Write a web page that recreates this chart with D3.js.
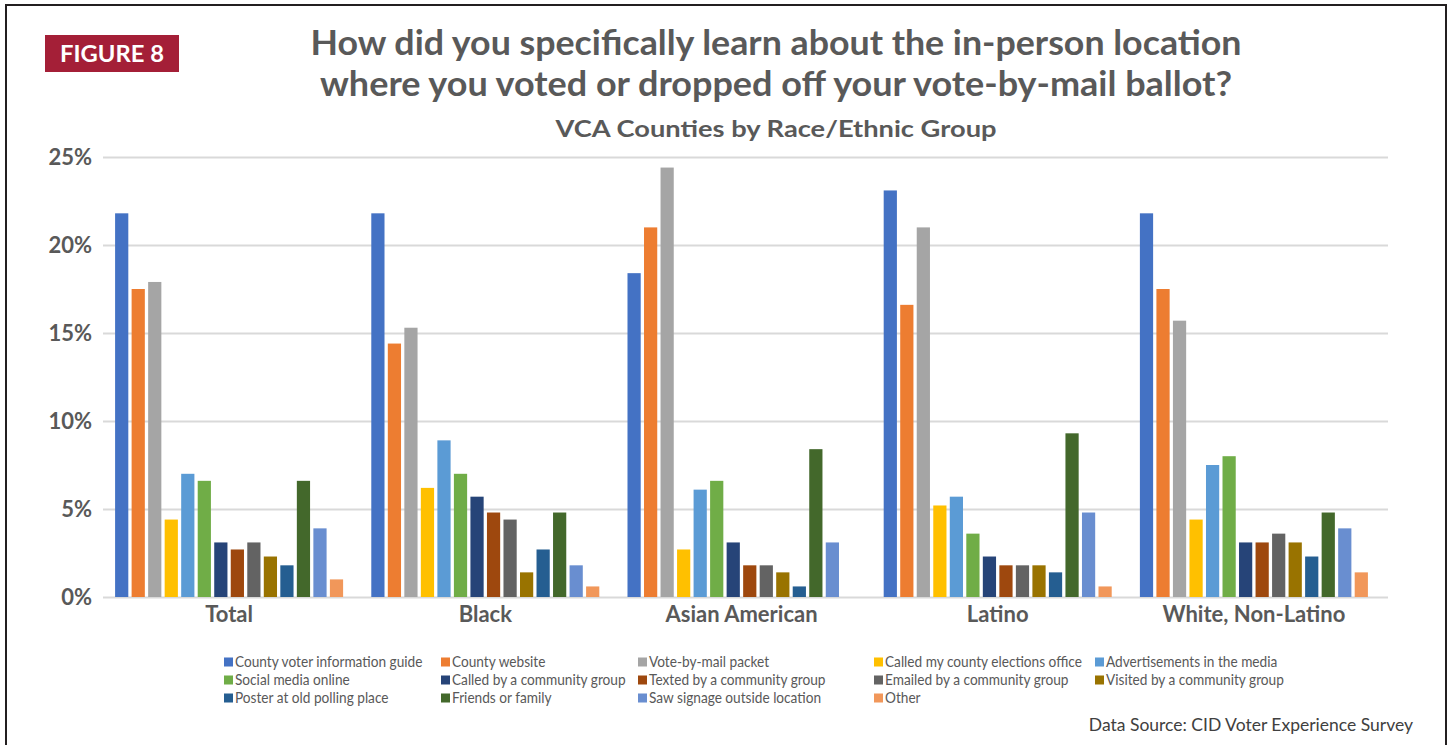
<!DOCTYPE html>
<html>
<head>
<meta charset="utf-8">
<script src="https://cdn.jsdelivr.net/npm/d3@7"></script>
<style>
  html, body { margin: 0; padding: 0; background: #fff; }
  svg { display: block; }
  text { font-family: Lato, "Open Sans", sans-serif; }
</style>
</head>
<body>
<svg id="chart" width="1454" height="745"></svg>
<script>
// ---------- data ----------
const groups = ["Total", "Black", "Asian American", "Latino", "White, Non-Latino"];
const seriesNames = [
  "County voter information guide", "County website", "Vote-by-mail packet",
  "Called my county elections office", "Advertisements in the media",
  "Social media online", "Called by a community group", "Texted by a community group",
  "Emailed by a community group", "Visited by a community group",
  "Poster at old polling place", "Friends or family", "Saw signage outside location", "Other"
];
const seriesColors = [
  "#4472C4", "#ED7D31", "#A5A5A5", "#FFC000", "#5B9BD5",
  "#70AD47", "#264478", "#9E480E", "#636363", "#997300",
  "#255E91", "#43682B", "#698ED0", "#F1975A"
];
// values per group, in the same order as seriesNames (percent)
const totalValues   = [21.8, 17.5, 17.9, 4.4, 7.0, 6.6, 3.1, 2.7, 3.1, 2.3, 1.8, 6.6, 3.9, 1.0];
const blackValues   = [21.8, 14.4, 15.3, 6.2, 8.9, 7.0, 5.7, 4.8, 4.4, 1.4, 2.7, 4.8, 1.8, 0.6];
const asianValues   = [18.4, 21.0, 24.4, 2.7, 6.1, 6.6, 3.1, 1.8, 1.8, 1.4, 0.6, 8.4, 3.1, 0.0];
const latinoValues  = [23.1, 16.6, 21.0, 5.2, 5.7, 3.6, 2.3, 1.8, 1.8, 1.8, 1.4, 9.3, 4.8, 0.6];
const whiteValues   = [21.8, 17.5, 15.7, 4.4, 7.5, 8.0, 3.1, 3.1, 3.6, 3.1, 2.3, 4.8, 3.9, 1.4];
const yTicks = [0, 5, 10, 15, 20, 25];
const yTickLabels = ["0%", "5%", "10%", "15%", "20%", "25%"];

const groupValues = [totalValues, blackValues, asianValues, latinoValues, whiteValues];

// ---------- drawing ----------
const svg = d3.select("#chart");

function fitTo(sel, target) {
  sel.each(function () {
    const L = this.getComputedTextLength();
    const t = typeof target === "function" ? target(L) : target;
    this.setAttribute("textLength", t);
    this.setAttribute("lengthAdjust", "spacingAndGlyphs");
  });
}

// frame
svg.append("rect")
  .attr("x", 6).attr("y", 5).attr("width", 1440).attr("height", 760)
  .attr("fill", "none").attr("stroke", "#231F20").attr("stroke-width", 2);

// figure badge
svg.append("rect")
  .attr("x", 45).attr("y", 35).attr("width", 134).attr("height", 37)
  .attr("fill", "#A41F37");
svg.append("text")
  .attr("x", 112).attr("y", 62)
  .attr("text-anchor", "middle")
  .attr("fill", "#fff").attr("font-weight", 700).attr("font-size", 23)
  .text("FIGURE 8")
  .call(fitTo, 104);

// titles
const titleColor = "#595959";
svg.append("text")
  .attr("x", 776).attr("y", 55).attr("text-anchor", "middle")
  .attr("fill", titleColor).attr("font-weight", 700).attr("font-size", 34)
  .text("How did you specifically learn about the in-person location")
  .call(fitTo, 931);
svg.append("text")
  .attr("x", 776).attr("y", 96).attr("text-anchor", "middle")
  .attr("fill", titleColor).attr("font-weight", 700).attr("font-size", 34)
  .text("where you voted or dropped off your vote-by-mail ballot?")
  .call(fitTo, 912);
svg.append("text")
  .attr("x", 776).attr("y", 137).attr("text-anchor", "middle")
  .attr("fill", titleColor).attr("font-weight", 700).attr("font-size", 23)
  .text("VCA Counties by Race/Ethnic Group")
  .call(fitTo, 441);

// scales
const y = d3.scaleLinear().domain([0, 25]).range([597, 157]);
const x0 = d3.scaleBand().domain(groups).range([101, 1382])
  .paddingInner(0.11).paddingOuter(0.055);
const x1 = d3.scaleBand().domain(seriesNames).range([0, x0.bandwidth()])
  .paddingInner(0.2).paddingOuter(0);

// gridlines
const grid = svg.append("g")
  .attr("transform", "translate(103,0)")
  .call(d3.axisLeft(y).tickValues(yTicks).tickSize(-1285).tickFormat(""));
grid.select(".domain").remove();
grid.selectAll(".tick line").attr("stroke", "#D9D9D9").attr("stroke-width", 2);

// y labels
const yAxis = svg.append("g")
  .attr("transform", "translate(92,0)")
  .call(d3.axisLeft(y).tickValues(yTicks).tickSize(0).tickPadding(0)
    .tickFormat((d, i) => yTickLabels[i]));
yAxis.select(".domain").remove();
yAxis.selectAll(".tick text")
  .attr("font-family", "Lato, 'Open Sans', sans-serif")
  .attr("font-size", 22).attr("font-weight", 700).attr("fill", titleColor)
  .attr("dy", "0.36em");

// bars
const gGroups = svg.append("g").selectAll("g")
  .data(groups.map((g, i) => ({ group: g, values: groupValues[i] })))
  .join("g")
  .attr("transform", d => `translate(${x0(d.group)},0)`);

gGroups.selectAll("rect")
  .data(d => d.values.map((v, j) => ({ name: seriesNames[j], value: v, color: seriesColors[j] })))
  .join("rect")
  .attr("x", d => x1(d.name))
  .attr("width", x1.bandwidth())
  .attr("y", d => y(d.value))
  .attr("height", d => y(0) - y(d.value))
  .attr("fill", d => d.color);

// category axis
const xAxis = svg.append("g")
  .attr("transform", "translate(0,597)")
  .call(d3.axisBottom(x0).tickSize(0).tickPadding(0));
xAxis.select(".domain").remove();
xAxis.selectAll(".tick text")
  .attr("font-family", "Lato, 'Open Sans', sans-serif")
  .attr("font-size", 22).attr("font-weight", 700).attr("fill", titleColor)
  .attr("dy", "1.15em");

// legend
const legendCols = [224, 441, 638, 874, 1095];
const legendRows = [662, 680, 698];
const legend = svg.append("g");
seriesNames.forEach((name, i) => {
  const col = i % 5, row = Math.floor(i / 5);
  const lx = legendCols[col], ly = legendRows[row];
  legend.append("rect")
    .attr("x", lx).attr("y", ly - 4.5).attr("width", 9).attr("height", 9)
    .attr("fill", seriesColors[i]);
  legend.append("text")
    .attr("x", lx + 11).attr("y", ly + 5)
    .attr("fill", titleColor).attr("font-size", 15)
    .text(name)
    .call(fitTo, L => L * 0.91);
});

// data source
svg.append("text")
  .attr("x", 1413).attr("y", 731).attr("text-anchor", "end")
  .attr("fill", "#404040").attr("font-size", 17.5)
  .text("Data Source: CID Voter Experience Survey");
</script>
</body>
</html>
